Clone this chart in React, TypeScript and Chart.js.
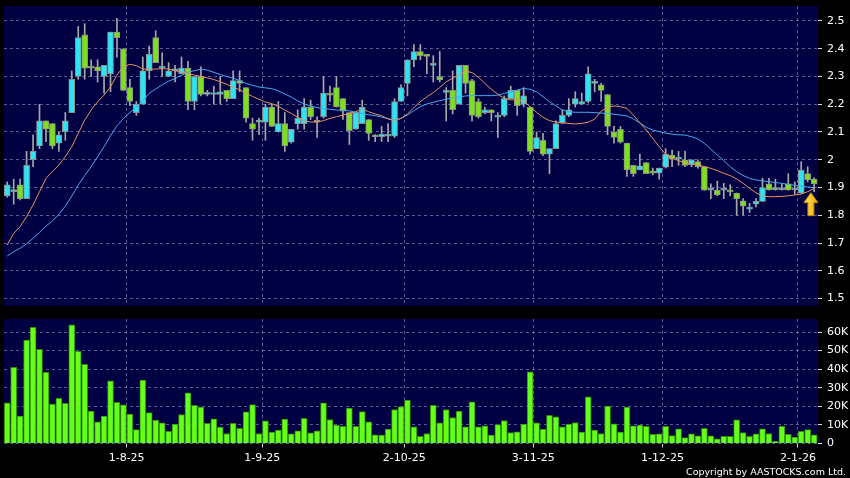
import { useEffect, useRef } from 'react';
import { Chart, registerables } from 'chart.js';

Chart.register(...registerables);

// ---- data (trading-day index 0..125) ----
const openP = [
  1.87, 1.885, 1.91, 1.86, 2.0, 2.05, 2.14, 2.13, 2.06, 2.1,
  2.17, 2.3, 2.45, 2.335, 2.335, 2.3, 2.31, 2.46, 2.4, 2.26,
  2.17, 2.2, 2.32, 2.44, 2.33, 2.3, 2.32, 2.31, 2.33, 2.21,
  2.3, 2.235, 2.235, 2.235, 2.25, 2.22, 2.285, 2.26, 2.13, 2.135,
  2.135, 2.19, 2.1, 2.13, 2.063, 2.13, 2.13, 2.19, 2.14, 2.155,
  2.24, 2.26, 2.22, 2.17, 2.11, 2.13, 2.145, 2.09, 2.083, 2.085,
  2.085, 2.21, 2.275, 2.36, 2.39, 2.38, 2.34, 2.3, 2.243, 2.25,
  2.2, 2.34, 2.285, 2.21, 2.17, 2.18, 2.153, 2.16, 2.22, 2.25,
  2.2, 2.19, 2.04, 2.07, 2.02, 2.04, 2.133, 2.16, 2.2, 2.2,
  2.21, 2.275, 2.27, 2.235, 2.1, 2.11, 2.06, 1.98, 1.963, 1.99,
  1.96, 1.952, 1.973, 2.017, 2.002, 2.0, 1.981, 1.993, 1.975, 1.89,
  1.891, 1.89, 1.89, 1.88, 1.852, 1.822, 1.84, 1.85, 1.913, 1.9,
  1.892, 1.913, 1.891, 1.88, 1.95, 1.93,
];
const highP = [
  1.92, 1.93, 1.93, 2.03, 2.09, 2.2, 2.14, 2.13, 2.1, 2.17,
  2.32, 2.48, 2.49, 2.36, 2.36, 2.34, 2.46, 2.51, 2.4, 2.29,
  2.21, 2.37, 2.41, 2.465, 2.385, 2.35, 2.34, 2.37, 2.355, 2.3,
  2.335, 2.25, 2.265, 2.3, 2.25, 2.32, 2.32, 2.26, 2.15, 2.15,
  2.2, 2.2, 2.21, 2.17, 2.11, 2.18, 2.22, 2.215, 2.155, 2.3,
  2.265, 2.3, 2.22, 2.17, 2.17, 2.215, 2.145, 2.09, 2.12, 2.13,
  2.22, 2.27, 2.36, 2.415, 2.415, 2.38, 2.375, 2.39, 2.26, 2.32,
  2.34, 2.34, 2.29, 2.22, 2.19, 2.18, 2.17, 2.23, 2.265, 2.25,
  2.26, 2.19, 2.1, 2.095, 2.04, 2.14, 2.18, 2.22, 2.245, 2.24,
  2.335, 2.29, 2.275, 2.235, 2.12, 2.12, 2.06, 1.98, 2.02, 1.99,
  1.97, 1.97, 2.04, 2.035, 2.03, 2.03, 2.0, 2.0, 1.975, 1.913,
  1.923, 1.915, 1.91, 1.88, 1.86, 1.843, 1.86, 1.933, 1.933, 1.93,
  1.913, 1.95, 1.92, 1.993, 1.975, 1.935,
];
const lowP = [
  1.865, 1.84, 1.855, 1.86, 1.975, 2.04, 2.065, 2.04, 2.03, 2.07,
  2.17, 2.29, 2.29, 2.3, 2.28, 2.24, 2.245, 2.37, 2.25, 2.195,
  2.16, 2.2, 2.29, 2.35, 2.3, 2.3, 2.28, 2.31, 2.18, 2.18,
  2.23, 2.23, 2.2, 2.2, 2.21, 2.22, 2.245, 2.135, 2.07, 2.09,
  2.07, 2.12, 2.1, 2.03, 2.06, 2.11, 2.11, 2.145, 2.08, 2.15,
  2.21, 2.19, 2.145, 2.055, 2.11, 2.13, 2.07, 2.065, 2.066, 2.065,
  2.08, 2.21, 2.23, 2.335, 2.36, 2.31, 2.28, 2.28, 2.14, 2.165,
  2.2, 2.24, 2.14, 2.15, 2.165, 2.14, 2.08, 2.155, 2.22, 2.16,
  2.19, 2.02, 2.04, 2.015, 1.95, 2.04, 2.13, 2.155, 2.19, 2.2,
  2.205, 2.245, 2.21, 2.09, 2.06, 2.06, 1.94, 1.94, 1.963, 1.95,
  1.945, 1.93, 1.97, 1.975, 1.98, 1.975, 1.975, 1.97, 1.89, 1.86,
  1.87, 1.86, 1.87, 1.8, 1.8, 1.81, 1.83, 1.85, 1.89, 1.89,
  1.89, 1.89, 1.875, 1.879, 1.92, 1.885,
];
const closeP = [
  1.91, 1.89, 1.86, 1.98, 2.03, 2.14, 2.11, 2.05, 2.09, 2.14,
  2.29, 2.44, 2.33, 2.33, 2.32, 2.34, 2.46, 2.44, 2.25, 2.21,
  2.2, 2.32, 2.38, 2.35, 2.33, 2.32, 2.32, 2.33, 2.21, 2.3,
  2.235, 2.243, 2.235, 2.245, 2.22, 2.285, 2.275, 2.15, 2.11, 2.143,
  2.19, 2.12, 2.13, 2.05, 2.11, 2.15, 2.19, 2.155, 2.135, 2.24,
  2.233, 2.19, 2.175, 2.105, 2.17, 2.19, 2.095, 2.083, 2.092, 2.085,
  2.21, 2.26, 2.36, 2.39, 2.375, 2.372, 2.34, 2.288, 2.25, 2.18,
  2.34, 2.275, 2.16, 2.155, 2.18, 2.17, 2.16, 2.22, 2.25, 2.195,
  2.23, 2.03, 2.08, 2.02, 2.04, 2.13, 2.16, 2.18, 2.22, 2.21,
  2.31, 2.275, 2.25, 2.12, 2.08, 2.063, 1.963, 1.95, 1.978, 1.95,
  1.952, 1.97, 2.02, 2.003, 2.01, 1.98, 2.0, 1.975, 1.89, 1.89,
  1.873, 1.89, 1.884, 1.86, 1.833, 1.822, 1.85, 1.9, 1.891, 1.892,
  1.899, 1.891, 1.891, 1.963, 1.927, 1.913,
];
const volume = [
  21900, 41000, 14700, 55700, 62500, 50700, 38300, 21200, 24300, 21600,
  63800, 49600, 42600, 17400, 11600, 14700, 33700, 22100, 20800, 15800,
  7500, 34100, 16700, 12600, 11100, 6600, 10400, 15600, 27300, 20500,
  19600, 10900, 13300, 8800, 5400, 10800, 8200, 17000, 21000, 5400,
  12200, 6100, 7200, 13100, 5200, 6800, 13500, 5700, 6800, 21900,
  12900, 9900, 9300, 19000, 9300, 17200, 11600, 4600, 4500, 7700,
  18300, 19900, 23300, 9000, 3900, 5400, 20600, 11100, 18300, 14000,
  17400, 9000, 22400, 9000, 9500, 4500, 10200, 12400, 5900, 6300,
  10400, 38600, 11100, 7700, 15100, 14300, 9000, 10400, 11300, 6100,
  25100, 7200, 5400, 20100, 10600, 6100, 19600, 9500, 9900, 9300,
  5000, 5200, 9200, 4300, 7900, 3200, 5200, 4100, 8100, 4100,
  2500, 3800, 3800, 12700, 5900, 3900, 5200, 7900, 5400, 1200,
  9300, 4900, 3400, 6500, 7500, 4600,
];
const maShort = [
  1.693, 1.735, 1.759, 1.795, 1.837, 1.885, 1.933, 1.957, 1.981, 2.011,
  2.047, 2.095, 2.143, 2.179, 2.209, 2.233, 2.263, 2.305, 2.335, 2.344,
  2.339, 2.327, 2.326, 2.327, 2.328, 2.327, 2.321, 2.316, 2.31, 2.305,
  2.3, 2.295, 2.289, 2.281, 2.272, 2.261, 2.252, 2.24, 2.228, 2.218,
  2.208, 2.202, 2.192, 2.179, 2.167, 2.153, 2.141, 2.136, 2.136, 2.141,
  2.149, 2.155, 2.161, 2.167, 2.173, 2.182, 2.173, 2.165, 2.159, 2.147,
  2.141, 2.149, 2.165, 2.188, 2.209, 2.227, 2.242, 2.26, 2.281, 2.294,
  2.305, 2.32, 2.314, 2.297, 2.275, 2.254, 2.236, 2.221, 2.216, 2.215,
  2.212, 2.191, 2.171, 2.153, 2.141, 2.136, 2.133, 2.131, 2.129, 2.131,
  2.135, 2.146, 2.175, 2.189, 2.194, 2.191, 2.185, 2.161, 2.133, 2.107,
  2.077, 2.047, 2.02, 2.005, 1.997, 1.989, 1.985, 1.981, 1.975, 1.969,
  1.961, 1.951, 1.943, 1.931, 1.915, 1.897, 1.881, 1.869, 1.867, 1.867,
  1.868, 1.87, 1.873, 1.876, 1.885, 1.897,
];
const maLong = [
  1.653, 1.669, 1.681, 1.697, 1.717, 1.738, 1.761, 1.779, 1.803, 1.833,
  1.869, 1.909, 1.943, 1.975, 2.011, 2.047, 2.086, 2.122, 2.149, 2.17,
  2.189, 2.212, 2.24, 2.255, 2.27, 2.283, 2.293, 2.305, 2.315, 2.321,
  2.326, 2.323, 2.315, 2.307, 2.3, 2.294, 2.285, 2.275, 2.268, 2.262,
  2.259, 2.256, 2.248, 2.237, 2.226, 2.212, 2.201, 2.194, 2.188, 2.184,
  2.182, 2.179, 2.178, 2.176, 2.171, 2.167, 2.162, 2.159, 2.154, 2.148,
  2.143, 2.149, 2.161, 2.177, 2.191, 2.201, 2.207, 2.213, 2.218, 2.223,
  2.226, 2.23, 2.231, 2.231, 2.231, 2.231, 2.233, 2.239, 2.245, 2.251,
  2.257, 2.254, 2.245, 2.227, 2.209, 2.194, 2.179, 2.173, 2.171, 2.171,
  2.171, 2.17, 2.168, 2.167, 2.164, 2.161, 2.158, 2.147, 2.133, 2.117,
  2.107, 2.101, 2.096, 2.092, 2.09, 2.089, 2.083, 2.075, 2.059, 2.038,
  2.017, 1.997, 1.975, 1.957, 1.943, 1.933, 1.927, 1.924, 1.921, 1.918,
  1.915, 1.911, 1.908, 1.904, 1.902, 1.899,
];
const tickIndex = [18, 39, 61, 81, 101, 122];
const tickLabels = ['1-8-25', '1-9-25', '2-10-25', '3-11-25', '1-12-25', '2-1-26'];
const priceTicks = [1.5, 1.6, 1.7, 1.8, 1.9, 2.0, 2.1, 2.2, 2.3, 2.4, 2.5];
const volumeTicks = [0, 10000, 20000, 30000, 40000, 50000, 60000];

// ---- styles ----
const NAVY = '#000042';
const GRID = 'rgba(120,120,175,0.75)';
const CYAN = '#2ee4f2';
const GREEN = '#7ddf1f';
const WICK = '#a8a8a8';
const BODY_EDGE = '#8e8e8e';
const ORANGE = '#e8925c';
const BLUE = '#44aaf0';
const VOL = '#66ff1a';
const VOL_EDGE = '#2f8a06';
const FONT = 'DejaVu Sans';

const X_MIN = -0.5;
const X_MAX = 125.6;

const panelBg = {
  id: 'panelBg',
  beforeDraw(chart: any) {
    const { ctx, chartArea: a } = chart;
    ctx.save();
    ctx.fillStyle = NAVY;
    ctx.fillRect(a.left, a.top, a.right - a.left, a.bottom - a.top);
    ctx.restore();
  },
};

const arrowPlugin = {
  id: 'lastArrow',
  afterDatasetsDraw(chart: any) {
    const last = closeP.length - 1;
    const { ctx } = chart;
    const cx = chart.scales.x.getPixelForValue(last - 0.5);
    const tip = chart.scales.y.getPixelForValue(lowP[last]) + 1;
    ctx.save();
    const g = ctx.createLinearGradient(cx - 7, 0, cx + 7, 0);
    g.addColorStop(0, '#ffe45a');
    g.addColorStop(1, '#f0a800');
    ctx.fillStyle = g;
    ctx.strokeStyle = '#c88400';
    ctx.lineWidth = 1;
    ctx.beginPath();
    ctx.moveTo(cx, tip);
    ctx.lineTo(cx + 7, tip + 10);
    ctx.lineTo(cx + 3, tip + 10);
    ctx.lineTo(cx + 3, tip + 23);
    ctx.lineTo(cx - 3, tip + 23);
    ctx.lineTo(cx - 3, tip + 10);
    ctx.lineTo(cx - 7, tip + 10);
    ctx.closePath();
    ctx.fill();
    ctx.stroke();
    ctx.restore();
  },
};

const fmtPrice = (v: number) => String(Math.round(v * 10) / 10);
const fmtVol = (v: number) => (v === 0 ? '0' : Math.round(v / 1000) + 'K');

export default function App() {
  const priceRef = useRef<HTMLCanvasElement | null>(null);
  const volRef = useRef<HTMLCanvasElement | null>(null);

  useEffect(() => {
    const bodyColors = closeP.map((c, i) => (c >= openP[i] ? CYAN : GREEN));
    const gridX = {
      type: 'linear' as const,
      min: X_MIN,
      max: X_MAX,
      offset: false,
      afterBuildTicks: (s: any) => {
        s.ticks = tickIndex.map((v) => ({ value: v + 0.5 }));
      },
    };

    const price = new Chart(priceRef.current!, {
      type: 'bar',
      data: {
        datasets: [
          {
            type: 'line',
            data: maShort.map((v, i) => ({ x: i, y: v })),
            borderColor: ORANGE,
            borderWidth: 1,
            pointRadius: 0,
            order: 0,
          } as any,
          {
            type: 'line',
            data: maLong.map((v, i) => ({ x: i, y: v })),
            borderColor: BLUE,
            borderWidth: 1,
            pointRadius: 0,
            order: 1,
          } as any,
          {
            type: 'bar',
            data: openP.map((o, i) => ({ x: i, y: [o, closeP[i]] })),
            backgroundColor: bodyColors,
            borderColor: BODY_EDGE,
            borderWidth: 1,
            borderSkipped: false,
            barThickness: 6,
            minBarLength: 2,
            grouped: false,
            order: 2,
          } as any,
          {
            type: 'bar',
            data: lowP.map((l, i) => ({ x: i, y: [l, highP[i]] })),
            backgroundColor: WICK,
            barThickness: 1,
            grouped: false,
            order: 3,
          } as any,
        ],
      },
      options: {
        animation: false,
        responsive: false,
        events: [],
        layout: { padding: { left: 4, top: 6, right: 0, bottom: 4 } },
        plugins: { legend: { display: false }, tooltip: { enabled: false } },
        scales: {
          x: {
            ...gridX,
            ticks: { display: false },
            grid: { color: GRID, drawTicks: false, offset: false },
            border: { display: false, dash: [3, 3] },
            afterFit: (s: any) => {
              s.height = 0;
              s.paddingLeft = 0;
              s.paddingRight = 0;
            },
          } as any,
          y: {
            type: 'linear',
            position: 'right',
            min: 1.473,
            max: 2.554,
            afterBuildTicks: (s: any) => {
              s.ticks = priceTicks.map((v) => ({ value: v }));
            },
            ticks: {
              color: '#ffffff',
              font: { family: FONT, size: 11 },
              padding: 5,
              callback: (v: any) => fmtPrice(Number(v)),
            },
            grid: { color: GRID, drawTicks: true, tickLength: 4, tickColor: '#dddddd', tickWidth: 1, tickBorderDash: [] },
            border: { display: false, dash: [3, 3] },
            afterFit: (s: any) => {
              s.width = 32;
              s.paddingTop = 0;
              s.paddingBottom = 0;
            },
          } as any,
        },
      },
      plugins: [panelBg, arrowPlugin],
    });

    const vol = new Chart(volRef.current!, {
      type: 'bar',
      data: {
        datasets: [
          {
            data: volume.map((v, i) => ({ x: i, y: v })),
            backgroundColor: VOL,
            borderColor: VOL_EDGE,
            borderWidth: { left: 1, right: 1, top: 1, bottom: 0 },
            borderSkipped: false,
            barThickness: 6,
            grouped: false,
          } as any,
        ],
      },
      options: {
        animation: false,
        responsive: false,
        events: [],
        layout: { padding: { left: 4, top: 9, right: 0, bottom: 12.5 } },
        plugins: { legend: { display: false }, tooltip: { enabled: false } },
        scales: {
          x: {
            ...gridX,
            ticks: {
              color: '#ffffff',
              font: { family: FONT, size: 11 },
              padding: 4,
              autoSkip: false,
              maxRotation: 0,
              callback: (_v: any, i: number) => tickLabels[i],
            },
            grid: { color: GRID, drawTicks: true, tickLength: 4, tickColor: '#dddddd', tickBorderDash: [], offset: false },
            border: { display: false, dash: [3, 3] },
            afterFit: (s: any) => {
              s.height = 22;
              s.paddingLeft = 0;
              s.paddingRight = 0;
            },
          } as any,
          y: {
            type: 'linear',
            position: 'right',
            min: 0,
            max: 67000,
            afterBuildTicks: (s: any) => {
              s.ticks = volumeTicks.map((v) => ({ value: v }));
            },
            ticks: {
              color: '#ffffff',
              font: { family: FONT, size: 11 },
              padding: 5,
              callback: (v: any) => fmtVol(Number(v)),
            },
            grid: { color: GRID, drawTicks: true, tickLength: 4, tickColor: '#dddddd', tickWidth: 1, tickBorderDash: [] },
            border: { display: false, dash: [3, 3] },
            afterFit: (s: any) => {
              s.width = 32;
              s.paddingTop = 0;
              s.paddingBottom = 0;
            },
          } as any,
        },
      },
      plugins: [panelBg],
    });

    return () => {
      price.destroy();
      vol.destroy();
    };
  }, []);

  return (
    <div style={{ position: 'fixed', left: 0, top: 0, width: 850, height: 478, background: '#000', overflow: 'hidden' }}>
      <canvas ref={priceRef} width={850} height={310} style={{ position: 'absolute', left: 0, top: 0, width: 850, height: 310 }} />
      <canvas ref={volRef} width={850} height={168} style={{ position: 'absolute', left: 0, top: 310, width: 850, height: 168 }} />
      <div
        style={{
          position: 'absolute',
          right: 4,
          top: 465,
          color: '#ffffff',
          fontFamily: FONT,
          fontSize: '9.5px',
          lineHeight: '13px',
          whiteSpace: 'nowrap',
        }}
      >
        Copyright by AASTOCKS.com Ltd.
      </div>
    </div>
  );
}
